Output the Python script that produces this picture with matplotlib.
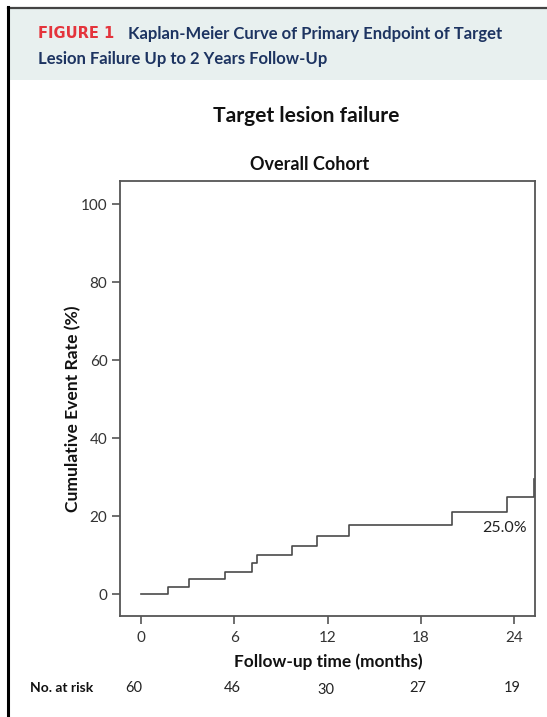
import matplotlib
matplotlib.use("Agg")
from matplotlib import pyplot as plt
from matplotlib.patches import Rectangle
from matplotlib.lines import Line2D
import matplotlib.transforms as mtransforms

plt.rcParams["font.family"] = ["Lato", "DejaVu Sans"]

# Kaplan-Meier steps
event_months = [0, 1.76, 3.11, 5.42, 7.12, 7.44, 9.73, 11.3, 13.38, 20.02, 23.56, 25.25]
event_rates = [0, 1.9, 3.8, 5.8, 7.9, 10.0, 12.4, 14.9, 17.8, 21.1, 25.0, 29.5]

x_ticks = [0, 6, 12, 18, 24]
y_ticks = [0, 20, 40, 60, 80, 100]
at_risk = [60, 46, 30, 27, 19]
# where the at-risk numbers sit along the time axis (not exactly on the ticks)
at_risk_pos = [-0.45, 5.85, 11.9, 17.8, 23.85]

W, H = 547, 717
fig = plt.figure(figsize=(W / 100, H / 100), dpi=100)

# header band and frame
fig.patches.append(Rectangle((8 / W, 1 - 80 / H), 1, 72 / H, transform=fig.transFigure,
                             facecolor="#e8f0ef", edgecolor="none", zorder=0))
fig.lines.append(Line2D([8 / W, 1], [1 - 7.5 / H, 1 - 7.5 / H], transform=fig.transFigure,
                        color="#444444", lw=1.6))
fig.lines.append(Line2D([8 / W, 8 / W], [0, 1 - 7 / H], transform=fig.transFigure,
                        color="black", lw=2.2))

fig.text(38 / W, 1 - 34 / H, "FIGURE 1", color="#e4343c", fontsize=10.5, fontweight="bold",
         family="DejaVu Sans", va="center", ha="left")
fig.text(128 / W, 1 - 34 / H, "Kaplan-Meier Curve of Primary Endpoint of Target",
         color="#1d3461", fontsize=12, fontweight="bold", va="center", ha="left")
fig.text(38 / W, 1 - 59 / H, "Lesion Failure Up to 2 Years Follow-Up",
         color="#1d3461", fontsize=12, fontweight="bold", va="center", ha="left")

fig.text(306 / W, 1 - 116 / H, "Target lesion failure", fontsize=15.1, fontweight="bold",
         ha="center", va="center", color="#111111")
fig.text(310 / W, 1 - 164 / H, "Overall Cohort", fontsize=13, fontweight="bold",
         ha="center", va="center", color="#111111")

ax = fig.add_axes([120 / W, 1 - 615.5 / H, 415 / W, 434.5 / H])
ax.step(event_months, event_rates, where="post", color="#4a4a4a", lw=1.2)
ax.text(23.4, 16.9, "25.0%", fontsize=11.5, ha="center", va="center", color="#222222")

ax.set_xlim(-1.35, 25.33)
ax.set_ylim(-5.45, 105.9)
ax.set_xticks(x_ticks)
ax.set_yticks(y_ticks)
for s in ax.spines.values():
    s.set_color("#555555")
    s.set_linewidth(1.3)
ax.tick_params(axis="both", direction="out", length=6, width=1.2, color="#555555",
               labelsize=11, labelcolor="#333333")
ax.tick_params(axis="y", pad=3)
ax.tick_params(axis="x", pad=5)

fig.text(73 / W, 1 - 409 / H, "Cumulative Event Rate (%)", rotation=90, fontsize=12.6,
         fontweight="bold", ha="center", va="center", color="#111111")
fig.text(328 / W, 1 - 662 / H, "Follow-up time (months)", fontsize=12.4,
         fontweight="bold", ha="center", va="center", color="#111111")

trans = mtransforms.blended_transform_factory(ax.transData, ax.transAxes)
for m, n in zip(at_risk_pos, at_risk):
    py = 690 if n == 30 else 688
    ax.text(m, (615.5 - py) / 434.5, str(n), transform=trans, fontsize=10.5,
            ha="center", va="center", color="#222222", clip_on=False)
fig.text(30 / W, 1 - 688 / H, "No. at risk", fontsize=10, fontweight="bold",
         ha="left", va="center", color="#111111")

fig.savefig("out.png", dpi=100)
